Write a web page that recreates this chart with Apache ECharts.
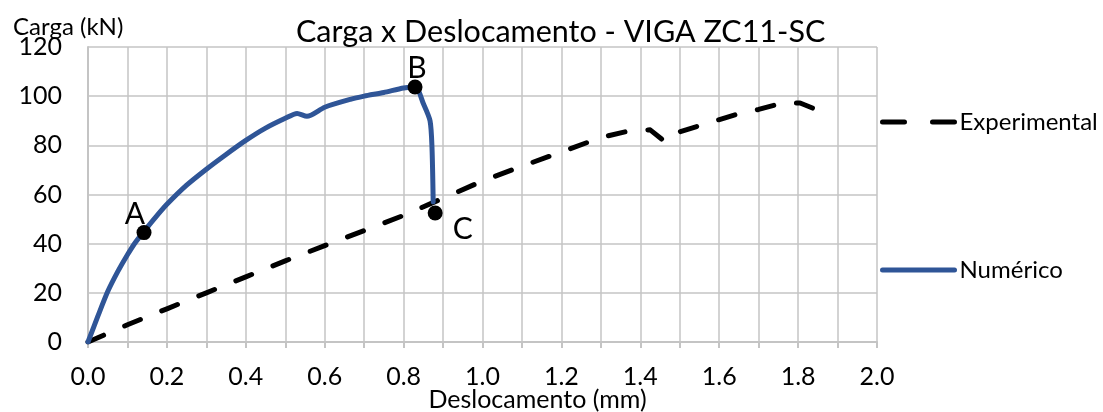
<!DOCTYPE html>
<html>
<head>
<meta charset="utf-8">
<script src="https://cdn.jsdelivr.net/npm/echarts@6/dist/echarts.min.js"></script>
<style>
	html, body { margin: 0; padding: 0; background: #fff; }
	#chart { width: 1103px; height: 412px; }
</style>
</head>
<body>
<div id="chart"></div>
<script>
	// deslocamento (mm), carga (kN)
	var experimental = [
		[0, 0], [0.1, 7], [0.2, 13.5], [0.3, 20], [0.4, 26.5], [0.5, 33], [0.6, 39.2],
		[0.7, 45.3], [0.8, 51.5], [0.9, 58.5], [1.0, 65.5], [1.1, 71.5], [1.2, 77.3],
		[1.3, 83.2], [1.37, 85.8], [1.425, 86.3], [1.463, 81.4], [1.5, 85.5], [1.58, 89.5],
		[1.64, 92.4], [1.7, 94.6], [1.76, 97.2], [1.805, 97.2], [1.87, 93]
	];
	var numerico = [
		[0, 0], [0.025, 10.5], [0.05, 20.5], [0.075, 28.5], [0.1, 35.5], [0.12, 40.5],
		[0.142, 45], [0.17, 50.5], [0.2, 56], [0.25, 63.8], [0.3, 70.3], [0.35, 76.3],
		[0.4, 82], [0.45, 87], [0.5, 91], [0.53, 93], [0.555, 91.8], [0.6, 95.5],
		[0.665, 98.7], [0.7, 100], [0.75, 101.5], [0.8, 103.3], [0.83, 103.7], [0.85, 97],
		[0.867, 90], [0.872, 79], [0.875, 57]
	];
	// pontos marcados
	var pontos = [
		{ name: 'A', value: [0.142, 44.5] },
		{ name: 'B', value: [0.829, 103.7] },
		{ name: 'C', value: [0.88, 52.5] }
	];
	var xTicks = [0, 0.2, 0.4, 0.6, 0.8, 1.0, 1.2, 1.4, 1.6, 1.8, 2.0];
	var yTicks = [0, 20, 40, 60, 80, 100, 120];

	var fonte = 'Lato, "Open Sans", sans-serif';
	var cinza = '#c4c4c4';
	var azul = '#2f5597';

	var chart = echarts.init(document.getElementById('chart'));
	chart.setOption({
		animation: false,
		backgroundColor: '#fff',
		title: [
			{
				text: 'Carga x Deslocamento - VIGA ZC11-SC',
				left: 291,
				top: 12,
				textStyle: { fontFamily: fonte, fontSize: 30.5, fontWeight: 'normal', color: '#000' }
			},
			{
				text: 'Carga (kN)',
				left: 8,
				top: 10,
				textStyle: { fontFamily: fonte, fontSize: 24, fontWeight: 'normal', color: '#000' }
			}
		],
		grid: { left: 88, right: 226, top: 47, bottom: 70, outerBoundsMode: 'none', containLabel: false },
		legend: {
			orient: 'vertical',
			left: 875,
			top: 105,
			itemWidth: 72,
			itemHeight: 14,
			itemGap: 124,
			textStyle: { fontFamily: fonte, fontSize: 24, color: '#000' },
			data: [
				{ name: 'Experimental', itemStyle: { opacity: 0 }, lineStyle: { type: [22, 28], width: 5, cap: 'round' } },
				{ name: 'Numérico', itemStyle: { opacity: 0 }, lineStyle: { width: 5, cap: 'round' } }
			]
		},
		xAxis: {
			type: 'value',
			min: xTicks[0],
			max: xTicks[xTicks.length - 1],
			interval: 0.1,
			name: 'Deslocamento (mm)',
			nameLocation: 'middle',
			nameGap: 45,
			nameMoveOverlap: false,
			nameTextStyle: { fontFamily: fonte, fontSize: 25, color: '#000', padding: [0, 0, 0, 110] },
			axisLine: { lineStyle: { color: cinza, width: 2 } },
			axisTick: { show: true, length: 6, lineStyle: { color: cinza, width: 2 } },
			axisLabel: {
				fontFamily: fonte, fontSize: 25, color: '#000', margin: 22,
				formatter: function (v) {
					return Math.round(v * 10) % 2 === 0 ? v.toFixed(1) : '';
				}
			},
			splitLine: { show: true, lineStyle: { color: cinza, width: 1.5 } }
		},
		yAxis: {
			type: 'value',
			min: yTicks[0],
			max: yTicks[yTicks.length - 1],
			interval: 20,
			axisLine: { show: true, lineStyle: { color: cinza, width: 2 } },
			axisTick: { show: false },
			axisLabel: { fontFamily: fonte, fontSize: 25, color: '#000', margin: 26 },
			splitLine: { show: true, lineStyle: { color: cinza, width: 1.5 } }
		},
		series: [
			{
				name: 'Experimental',
				type: 'line',
				data: experimental,
				symbol: 'none',
				smooth: false,
				lineStyle: { color: '#000', width: 5, type: [17, 23], cap: 'round', join: 'round' },
				itemStyle: { color: '#000' }
			},
			{
				name: 'Numérico',
				type: 'line',
				data: numerico,
				symbol: 'none',
				smooth: 0.25,
				lineStyle: { color: azul, width: 5, cap: 'round', join: 'round' },
				itemStyle: { color: azul }
			},
			{
				name: 'pontos',
				type: 'scatter',
				data: pontos.map(function (p) { return { name: p.name, value: p.value }; }),
				symbol: 'circle',
				symbolSize: 15,
				itemStyle: { color: '#000', opacity: 1 },
				label: {
					show: true,
					formatter: '{b}',
					fontFamily: fonte,
					fontSize: 30,
					color: '#000',
					position: 'top'
				},
				z: 5
			}
		]
	});
	// posições dos rótulos A, B, C
	var rotulos = [
		{ position: 'top', offset: [-9, 9] },
		{ position: 'top', offset: [2, 9] },
		{ position: 'right', offset: [5, 16] }
	];
	chart.setOption({
		series: [{}, {}, {
			data: pontos.map(function (p, i) {
				return { name: p.name, value: p.value, label: rotulos[i] };
			})
		}]
	});
</script>
</body>
</html>
